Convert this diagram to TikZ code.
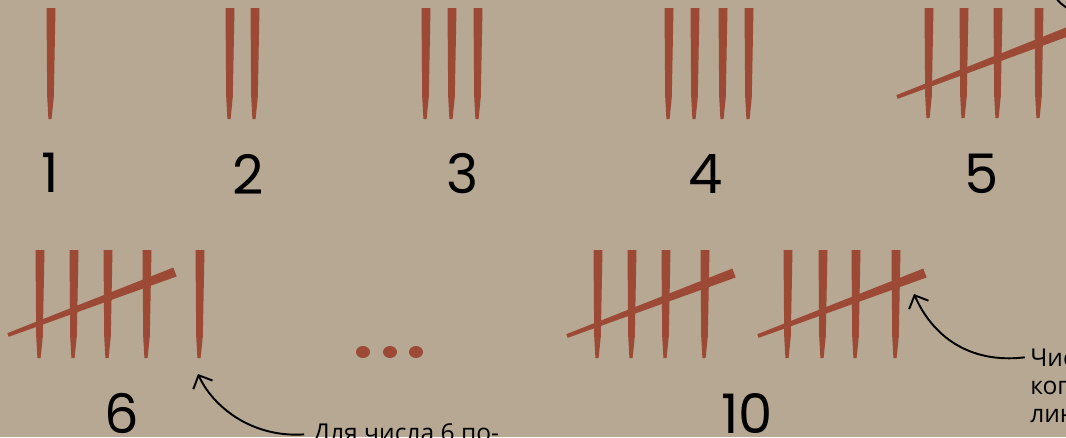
\documentclass[tikz,border=0pt]{standalone}
\usepackage{fontspec}
\usepackage{xcolor}
\usepackage{tikz}
\usetikzlibrary{arrows.meta,calc}

\setmainfont{Poppins}
\newfontfamily\notefont{Open Sans}

\definecolor{tanbg}{RGB}{182,168,146}
\definecolor{rust}{RGB}{156,74,54}

% one tapered tally stroke: x, top y, bottom y
\newcommand{\tallymark}[3]{%
    \fill[rust] (#1-4.5,#2) -- (#1+4.5,#2) -- (#1+2.8,{#2+0.8*(#3-#2)})
        -- (#1+0.6,#3) -- (#1-2.6,#3) -- (#1-3.8,{#2+0.8*(#3-#2)}) -- cycle;}
% one tapered slash across a group: thin end, thick end
\newcommand{\tallyslash}[4]{%
    \fill[rust] ($(#1,#2)!1.1pt!90:(#3,#4)$) -- ($(#3,#4)!2.7pt!-90:(#1,#2)$)
        -- ($(#3,#4)!2.7pt!90:(#1,#2)$) -- ($(#1,#2)!1.1pt!-90:(#3,#4)$) -- cycle;}

\begin{document}
\begin{tikzpicture}[
    x=0.02cm,
    y=-0.02cm,
    number/.style={
        inner sep=0pt,
        font=\fontsize{31}{31}\selectfont
    },
    note/.style={
        inner sep=0pt,
        anchor=base west,
        font=\notefont\fontsize{14}{16}\selectfont
    },
    arrow/.style={
        -{Straight Barb[length=6pt,width=12pt]},
        line width=1.1pt
    }
]

% ==================================================
% Background
% ==================================================

\fill[tanbg] (0,0) rectangle (1066,437);
\useasboundingbox (0,0) rectangle (1066,437);


% ==================================================
% Top row: 1 to 5
% ==================================================

\tallymark{51}{8}{119}

\tallymark{230}{8}{119}
\tallymark{255}{8}{119}

\tallymark{426}{8}{119}
\tallymark{452}{8}{119}
\tallymark{478}{8}{119}

\tallymark{669}{8}{119}
\tallymark{695}{8}{119}
\tallymark{723}{8}{119}
\tallymark{749}{8}{119}

\tallymark{929}{8}{118}
\tallymark{964}{8}{118}
\tallymark{998}{8}{118}
\tallymark{1039}{8}{118}
\tallyslash{897}{97}{1080}{27}

\node[number] (one)   at (50,173)  {1};
\node[number] (two)   at (248,174) {2};
\node[number] (three) at (463,174) {3};
\node[number] (four)  at (706,174) {4};
\node[number] (five)  at (982,174) {5};


% ==================================================
% Bottom row: 6
% ==================================================

\tallymark{40}{250}{358}
\tallymark{74}{250}{358}
\tallymark{108}{250}{358}
\tallymark{147}{250}{358}
\tallyslash{8}{335}{175}{272}
\tallymark{200}{250}{358}

\node[number] (six) at (122,413) {6};


% ==================================================
% Ellipsis
% ==================================================

\fill[rust] (363,352) ellipse [x radius=7, y radius=6];
\fill[rust] (390,352) ellipse [x radius=7, y radius=6];
\fill[rust] (416,352) ellipse [x radius=7, y radius=6];


% ==================================================
% Bottom row: 10
% ==================================================

\tallymark{598}{250}{358}
\tallymark{632}{250}{358}
\tallymark{666}{250}{358}
\tallymark{705}{250}{358}
\tallyslash{567}{336}{734}{273}

\tallymark{788}{250}{358}
\tallymark{823}{250}{358}
\tallymark{856}{250}{358}
\tallymark{896}{250}{358}
\tallyslash{758}{336}{925}{273}

\node[number] (ten) at (747,414) {10};


% ==================================================
% Notes and arrows
% ==================================================

\node[note] (note6) at (313,441) {Для числа 6 по-};

\node[note] (note10a) at (1030,366) {Чис};
\node[note] (note10b) at (1030,394) {ког};
\node[note] (note10c) at (1030,422) {лин};

\coordinate (tip6) at (198,374);
\coordinate (tip10) at (914,294);

\draw[arrow] ([xshift=-5pt]note6.west)
    .. controls (250,438) and (212,405) .. (tip6);
\draw[arrow] ([xshift=-3pt]note10a.west)
    .. controls (968,364) and (932,335) .. (tip10);

% piece of an arrow cut by the top edge
\coordinate (cut) at (1067,8);
\draw[line width=1.1pt] (1056,-2) .. controls (1060,3) .. (cut);

\end{tikzpicture}
\end{document}
